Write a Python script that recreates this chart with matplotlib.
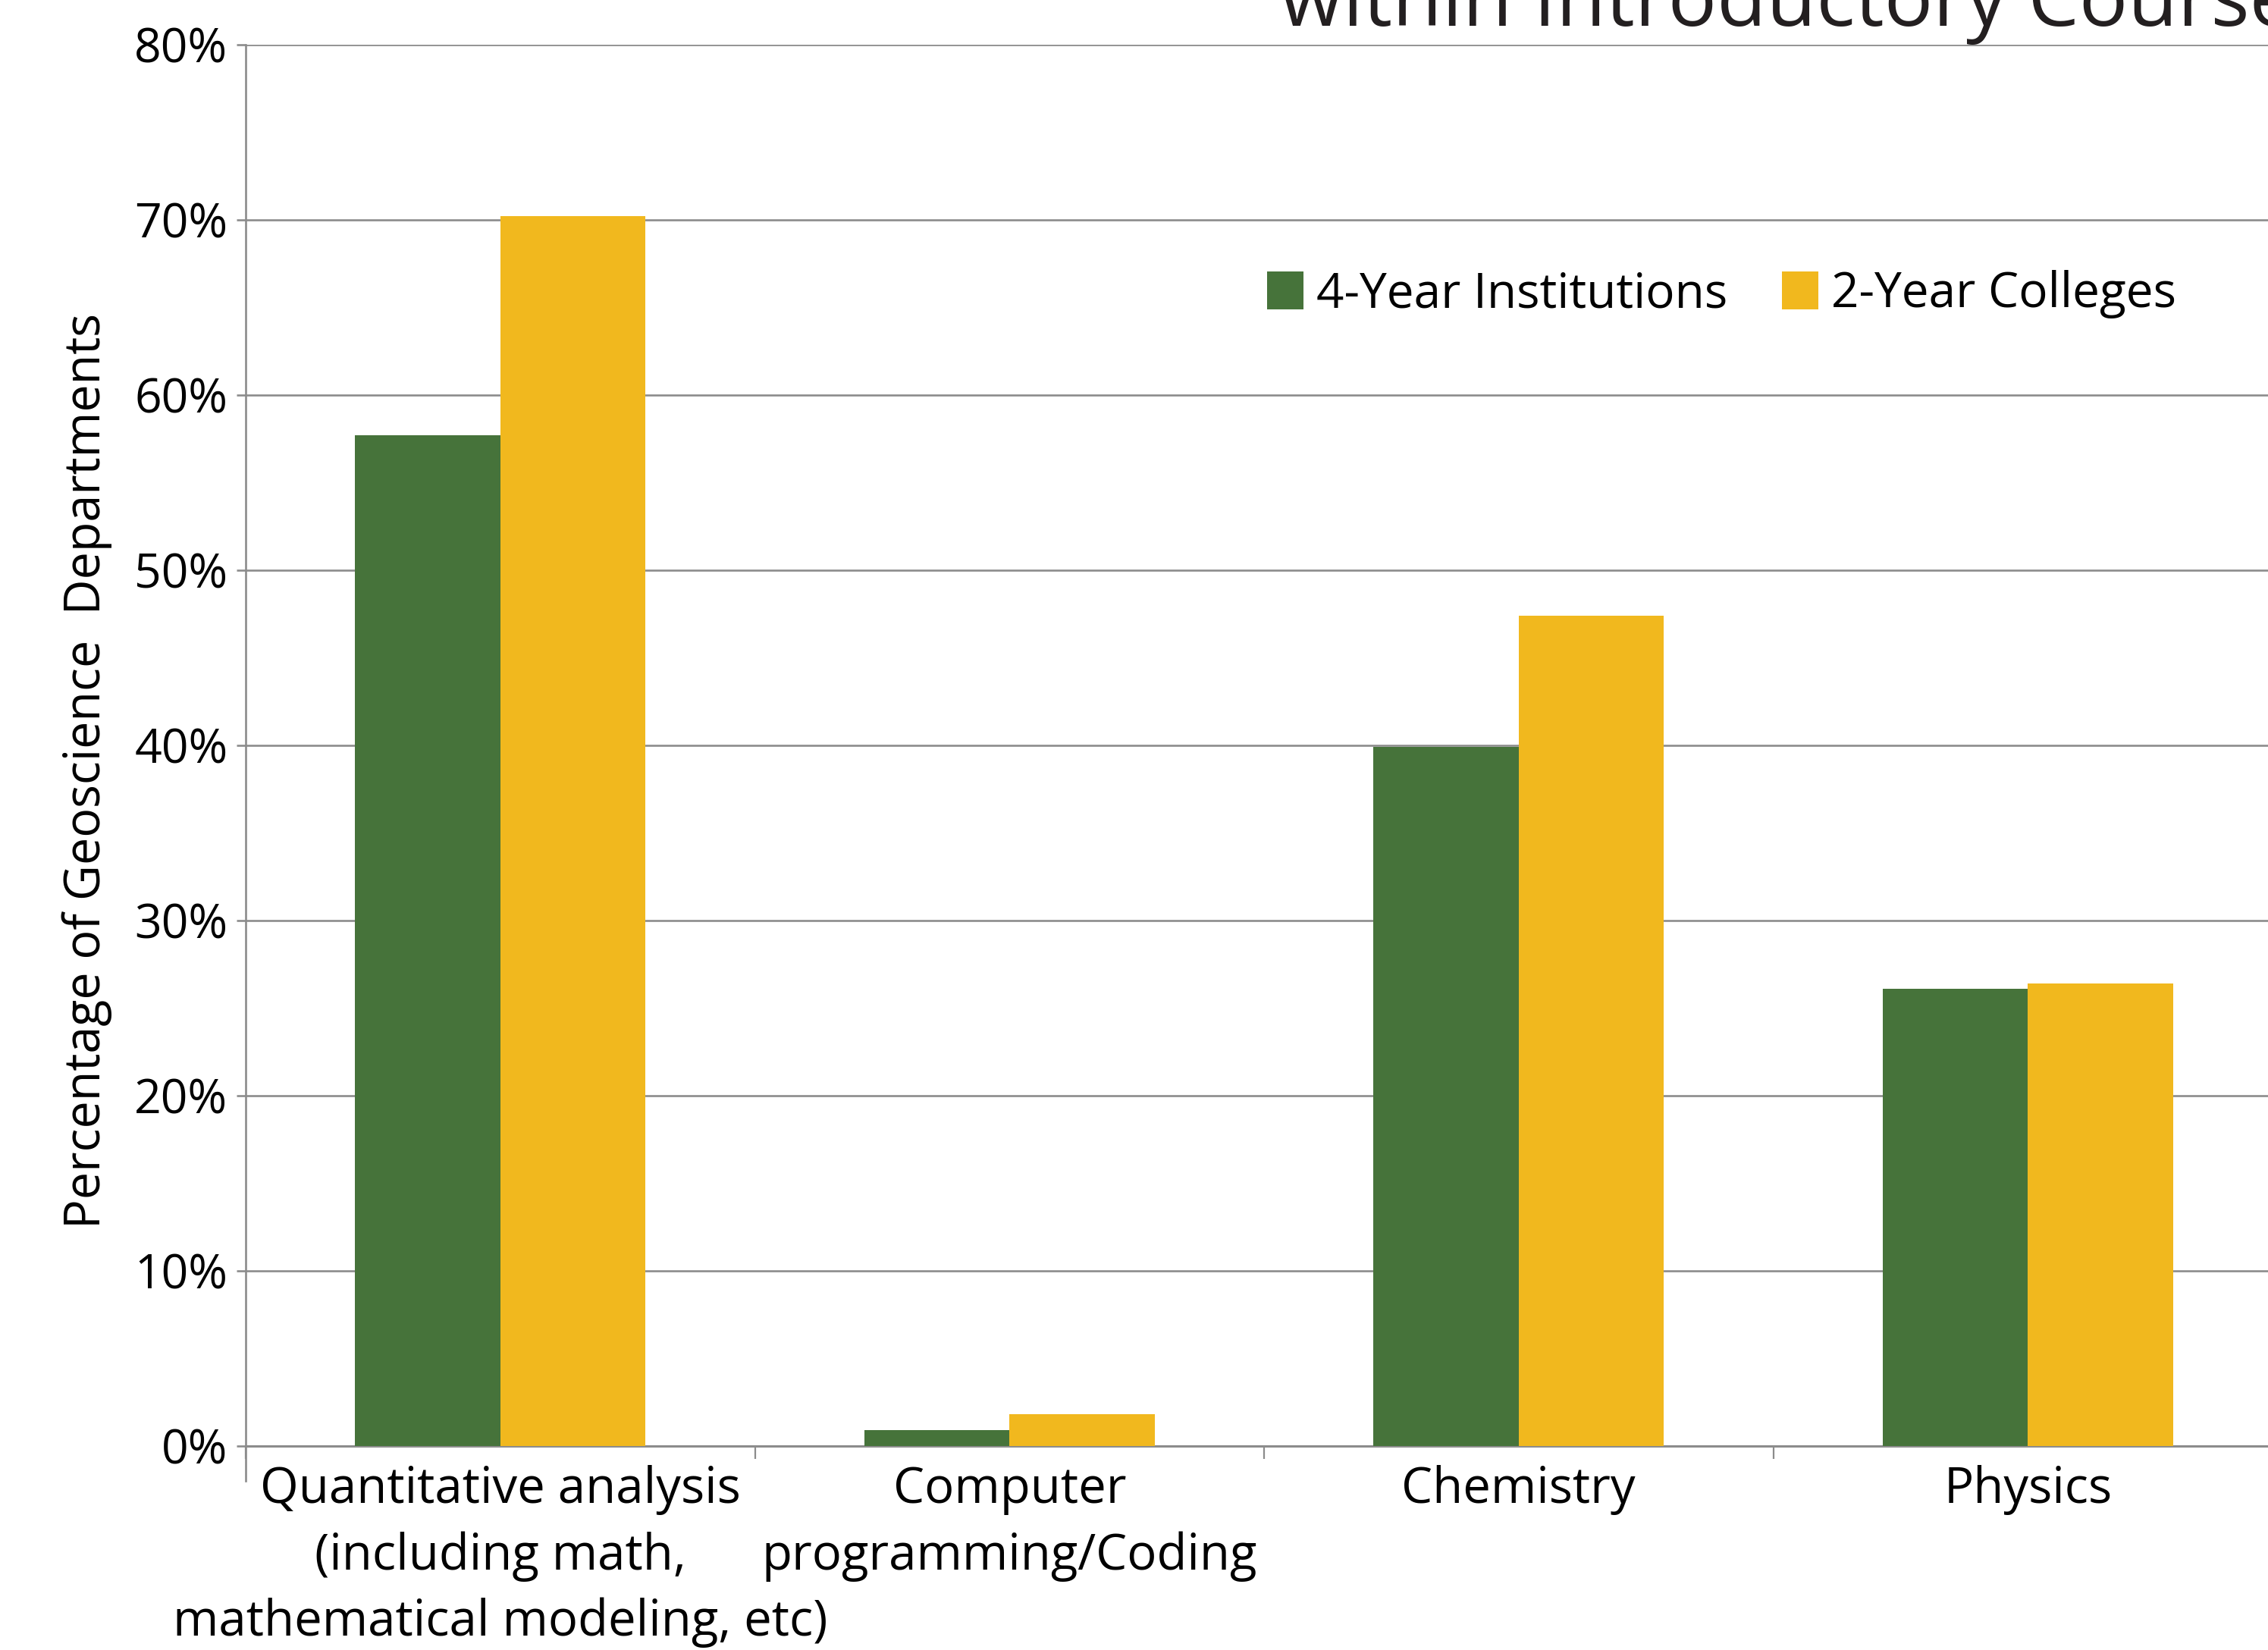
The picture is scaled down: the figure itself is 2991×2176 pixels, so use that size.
import matplotlib
matplotlib.use("Agg")
import matplotlib.pyplot as plt
from matplotlib.patches import Patch
import numpy as np

plt.rcParams['font.family'] = ['Open Sans', 'DejaVu Sans']

# Data
categories = [
    "Quantitative analysis\n(including math,\nmathematical modeling, etc)",
    "Computer\nprogramming/Coding",
    "Chemistry",
    "Physics",
]
four_year = [57.7, 0.9, 39.9, 26.1]
two_year = [70.2, 1.8, 47.4, 26.4]
series_names = ["4-Year Institutions", "2-Year Colleges"]
yticks = [0, 10, 20, 30, 40, 50, 60, 70, 80]

GREEN = "#46733A"
GOLD = "#F1B81E"
GRID = "#8C8C8C"

W, H = 2991, 2176
DPI = 100
fig = plt.figure(figsize=(W / DPI, H / DPI), dpi=DPI)

# Axes spans slightly past the right edge of the canvas
left_px, right_px = 324, 3010
bottom_px, top_px = 1907, 59
ax = fig.add_axes([left_px / W, 1 - bottom_px / H,
                   (right_px - left_px) / W, (bottom_px - top_px) / H])

x = np.arange(len(categories))
bw = 0.285
ax.bar(x - bw / 2, four_year, width=bw, color=GREEN, zorder=3,
       label=series_names[0])
ax.bar(x + bw / 2, two_year, width=bw, color=GOLD, zorder=3,
       label=series_names[1])

ax.set_xlim(-0.5, len(categories) - 0.5)
ax.set_ylim(0, 80)

# Horizontal grid
ax.set_yticks(yticks)
ax.set_yticklabels([f"{v}%" for v in yticks])
ax.yaxis.grid(True, color=GRID, linewidth=1.9, zorder=0)
ax.set_axisbelow(True)

# Category labels centred under groups, ticks on group boundaries
ax.set_xticks(x)
ax.set_xticklabels(categories, linespacing=1.42)
ax.set_xticks(np.arange(len(categories) + 1) - 0.5, minor=True)
ax.tick_params(axis='x', which='major', length=0, pad=18, labelsize=47)
ax.tick_params(axis='x', which='minor', length=12, width=1.6, color=GRID,
               direction='out')
ax.tick_params(axis='y', which='major', length=9, width=1.9, color=GRID,
               pad=8, labelsize=45, direction='out')

for side in ['top', 'right']:
    ax.spines[side].set_visible(False)
ax.spines['left'].set_color(GRID)
ax.spines['left'].set_linewidth(1.9)
ax.spines['bottom'].set_color(GRID)
ax.spines['bottom'].set_linewidth(2.2)
ax.spines['left'].set_bounds(-2, 80)

# Legend
LFS = 46
F = LFS * DPI / 72
handles = [Patch(facecolor=GREEN), Patch(facecolor=GOLD)]
fig.legend(handles, series_names, ncol=2, frameon=False, fontsize=LFS,
           loc='center left', bbox_to_anchor=(1671 / W, 1 - 388 / H),
           borderpad=0, borderaxespad=0,
           handlelength=48 / F, handleheight=53 / F,
           handletextpad=17 / F, columnspacing=72 / F)

# Axis title
fig.text(115 / W, 1 - 1017 / H, "Percentage of Geoscience  Departments",
         rotation=90, ha='center', va='center', fontsize=46.5)

# Chart heading (runs off the top of the canvas)
fig.text(1688 / W, 1 - 34 / H, "within Introductory Courses",
         ha='left', va='baseline', fontsize=77, color='#231F20')

fig.savefig("out.png", dpi=DPI)
